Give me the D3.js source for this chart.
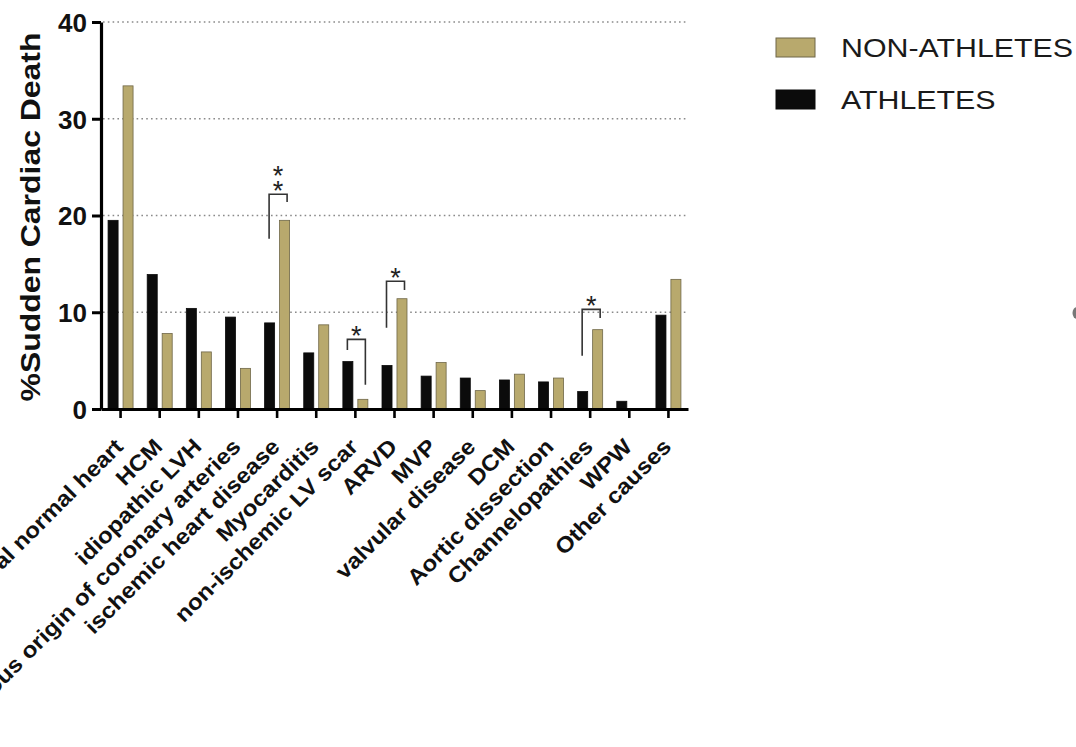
<!DOCTYPE html>
<html>
<head>
<meta charset="utf-8">
<script src="https://cdn.jsdelivr.net/npm/d3@7"></script>
<style>
  body { margin: 0; background: #fff; }
  svg { display: block; }
  text { font-family: "Liberation Sans", Arial, Helvetica, sans-serif; }
</style>
</head>
<body>
<svg id="chart" width="1076" height="747"></svg>
<script>
// Causes of sudden cardiac death
const categories = [
  "Structural normal heart", "HCM", "idiopathic LVH",
  "Anomalous origin of coronary arteries", "ischemic heart disease",
  "Myocarditis", "non-ischemic LV scar", "ARVD", "MVP", "valvular disease",
  "DCM", "Aortic dissection", "Channelopathies", "WPW", "Other causes"
];
// % of sudden cardiac deaths per cause
const athletes    = [19.5, 13.9, 10.4, 9.5, 8.9, 5.8, 4.9, 4.5, 3.4, 3.2, 3.0, 2.8, 1.8, 0.8, 9.7];
const nonAthletes = [33.4, 7.8, 5.9, 4.2, 19.5, 8.7, 1.0, 11.4, 4.8, 1.9, 3.6, 3.2, 8.2, 0.0, 13.4];
const seriesNames = ["ATHLETES", "NON-ATHLETES"];
const legendOrder = ["NON-ATHLETES", "ATHLETES"];
const yTicks = [0, 10, 20, 30, 40];
const gridTicks = [10, 20, 30, 40];
// significance brackets: left leg bottom, bracket top, right leg bottom (in %)
const significance = [
  { category: "ischemic heart disease", stars: 2, left: 17.6, top: 22.2, right: 21.4 },
  { category: "non-ischemic LV scar",   stars: 1, left: 6.1,  top: 7.2,  right: 2.5 },
  { category: "ARVD",                   stars: 1, left: 8.4,  top: 13.2, right: 12.3 },
  { category: "Channelopathies",        stars: 1, left: 5.5,  top: 10.3, right: 9.4 }
];

const colors = { "ATHLETES": "#0b0b0b", "NON-ATHLETES": "#b8a96d" };
const strokes = { "ATHLETES": "#0b0b0b", "NON-ATHLETES": "#6f6748" };

const svg = d3.select("#chart");

const x0 = d3.scaleBand().domain(categories).range([101, 688]).padding(0);
const x1 = d3.scaleBand().domain(seriesNames).range([-12.5, 12.5]).paddingInner(0.33);
const y = d3.scaleLinear().domain([0, 40]).range([409, 22]);
const cx = c => x0(c) + x0.bandwidth() / 2;

// dotted grid lines
svg.append("g").selectAll("line").data(gridTicks).join("line")
  .attr("x1", 103).attr("x2", 688)
  .attr("y1", d => y(d)).attr("y2", d => y(d))
  .attr("stroke", "#8a8a8a").attr("stroke-width", 1.6)
  .attr("stroke-dasharray", "1.6,3.2");

// bars
const rows = categories.map((c, i) => ({ c, values: { "ATHLETES": athletes[i], "NON-ATHLETES": nonAthletes[i] } }));
const groups = svg.append("g").selectAll("g").data(rows).join("g")
  .attr("transform", d => `translate(${cx(d.c)},0)`);
groups.selectAll("rect")
  .data(d => seriesNames.map(s => ({ s, v: d.values[s] })).filter(e => e.v > 0))
  .join("rect")
  .attr("x", e => x1(e.s))
  .attr("width", x1.bandwidth())
  .attr("y", e => y(e.v))
  .attr("height", e => y(0) - y(e.v))
  .attr("fill", e => colors[e.s])
  .attr("stroke", e => strokes[e.s])
  .attr("stroke-width", 0.8);

// y axis
const yAxis = svg.append("g").attr("transform", "translate(101,0)")
  .call(d3.axisLeft(y).tickValues(yTicks).tickSize(9).tickSizeOuter(0).tickPadding(5).tickFormat(d3.format("d")));
yAxis.select(".domain").attr("stroke", "#000").attr("stroke-width", 3.2);
yAxis.selectAll(".tick line").attr("stroke", "#000").attr("stroke-width", 3);
yAxis.selectAll(".tick text")
  .attr("font-size", 26).attr("font-weight", "bold").attr("fill", "#111")
  .attr("font-family", "'Liberation Sans', Arial, sans-serif")
  .attr("dy", "0.36em");

// x axis
const xAxis = svg.append("g").attr("transform", "translate(0,409)")
  .call(d3.axisBottom(x0).tickSize(9).tickSizeOuter(0).tickFormat(""));
xAxis.select(".domain").attr("stroke", "#000").attr("stroke-width", 3.2);
xAxis.selectAll(".tick line").attr("stroke", "#000").attr("stroke-width", 2.6);

// rotated category labels
svg.append("g").selectAll("text").data(categories).join("text")
  .attr("transform", d => `translate(${cx(d) + 4},${448}) rotate(-45) scale(1.1,1)`)
  .attr("text-anchor", "end")
  .attr("font-size", 22).attr("font-weight", "bold").attr("fill", "#111")
  .text(d => d);

// y axis title
svg.append("text")
  .attr("transform", `translate(40,217) rotate(-90) scale(1.14,1)`)
  .attr("text-anchor", "middle")
  .attr("font-size", 28).attr("font-weight", "bold").attr("fill", "#111")
  .text("%Sudden Cardiac Death");

// significance brackets
const sig = svg.append("g");
significance.forEach(s => {
  const c = cx(s.category);
  const xl = c - 8, xr = c + 10;
  sig.append("path")
    .attr("d", `M${xl},${y(s.left)}V${y(s.top)}H${xr}V${y(s.right)}`)
    .attr("fill", "none").attr("stroke", "#333").attr("stroke-width", 1.6);
  const st = sig.append("text")
    .attr("x", (xl + xr) / 2).attr("y", y(s.top) - 9 + 15)
    .attr("text-anchor", "middle")
    .attr("font-size", 27).attr("fill", "#222");
  for (let k = 0; k < s.stars; k++) {
    st.append("tspan").attr("x", (xl + xr) / 2).attr("dy", k === 0 ? 0 : -15).text("*");
  }
});

// legend
const legend = svg.append("g");
legendOrder.forEach((s, i) => {
  const ly = 38 + i * 52;
  legend.append("rect")
    .attr("x", 776).attr("y", ly).attr("width", 39).attr("height", 19)
    .attr("fill", colors[s]).attr("stroke", strokes[s]).attr("stroke-width", 1);
  legend.append("text")
    .attr("transform", `translate(841,${ly + 18.5}) scale(1.19,1)`)
    .attr("font-size", 25.5).attr("fill", "#1a1a1a")
    .text(s);
});

// stray mark at the right edge
svg.append("ellipse").attr("cx", 1077).attr("cy", 313).attr("rx", 4.5).attr("ry", 6).attr("fill", "#777");
</script>
</body>
</html>
